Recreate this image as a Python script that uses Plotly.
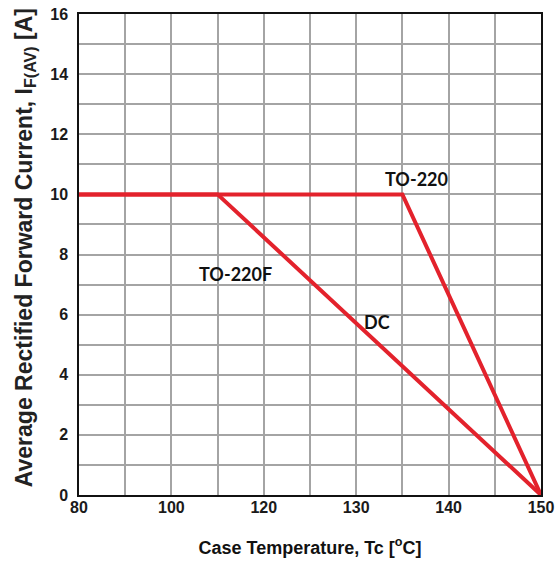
import numpy as np
import plotly.graph_objects as go

# Axis tick labels (case temperature, degC) as printed on the datasheet scale
tc_tick_labels = [80, 100, 120, 130, 140, 150]
if_ticks = [0, 2, 4, 6, 8, 10, 12, 14, 16]

# Derating curves: case temperature (degC) vs average forward current (A)
to220_tc = [80, 135, 150]
to220_if = [10, 10, 0]
to220f_tc = [80, 110, 150]
to220f_if = [10, 10, 0]

# The printed temperature scale is not uniform; place temperatures on
# evenly spaced tick positions by interpolating between labels.
tick_pos = np.arange(len(tc_tick_labels), dtype=float)


def tc_to_pos(tc):
    return np.interp(tc, tc_tick_labels, tick_pos)


RED = "#e3222c"
GRID = "#a4a4a4"
TICK_FONT = dict(family="Liberation Sans, Arial", size=16, color="#1a1a1a", weight="bold")

fig = go.Figure()
fig.add_trace(go.Scatter(x=tc_to_pos(to220_tc), y=to220_if, mode="lines",
                         line=dict(color=RED, width=4), name="TO-220"))
fig.add_trace(go.Scatter(x=tc_to_pos(to220f_tc), y=to220f_if, mode="lines",
                         line=dict(color=RED, width=4), name="TO-220F"))

label_font = dict(family="Lato, Liberation Sans", size=18, color="#111", weight="bold")
labels = [("TO-220", 136.5, 10.5), ("TO-220F", 113.8, 7.35), ("DC", 132.2, 5.75)]
for text, tc, cur in labels:
    fig.add_annotation(x=float(tc_to_pos(tc)), y=cur, text=text, showarrow=False,
                       font=label_font, xref="x", yref="y")

# Vertical axis title, placed as a rotated annotation beside the plot
fig.add_annotation(
    text="Average Rectified Forward Current, I<sub>F(AV)</sub> [A]",
    xref="paper", yref="paper", x=-0.117, y=0.515, textangle=-90,
    showarrow=False, xanchor="center", yanchor="middle",
    font=dict(family="Liberation Sans, Arial", size=23, color="#222", weight="bold"),
)

fig.update_xaxes(
    range=[0, tick_pos[-1]], tickmode="array", tickvals=tick_pos,
    ticktext=[str(v) for v in tc_tick_labels], tickfont=TICK_FONT,
    showgrid=True, gridcolor=GRID, gridwidth=1.5,
    minor=dict(tickmode="linear", tick0=0, dtick=0.5, showgrid=True,
               gridcolor=GRID, gridwidth=1.5),
    showline=True, linecolor="#111", linewidth=1.5, mirror=True,
    ticks="", zeroline=False, ticklabelstandoff=-3, automargin=False,
    title=dict(text="Case Temperature, Tc [<sup>o</sup>C]", standoff=26,
               font=dict(family="Liberation Sans, Arial", size=18, color="#111",
                         weight="bold")),
)
fig.update_yaxes(
    range=[0, 16], tickmode="array", tickvals=if_ticks, tickfont=TICK_FONT,
    showgrid=True, gridcolor=GRID, gridwidth=1.5,
    minor=dict(tickmode="linear", tick0=0, dtick=1, showgrid=True,
               gridcolor=GRID, gridwidth=1.5),
    showline=True, linecolor="#111", linewidth=1.5, mirror=True,
    ticks="", zeroline=False, ticklabelstandoff=6, automargin=False,
)
fig.update_layout(
    width=555, height=571, showlegend=False,
    margin=dict(l=79, r=14, t=14, b=76),
    plot_bgcolor="white", paper_bgcolor="white",
)
fig.write_html("out.html")
